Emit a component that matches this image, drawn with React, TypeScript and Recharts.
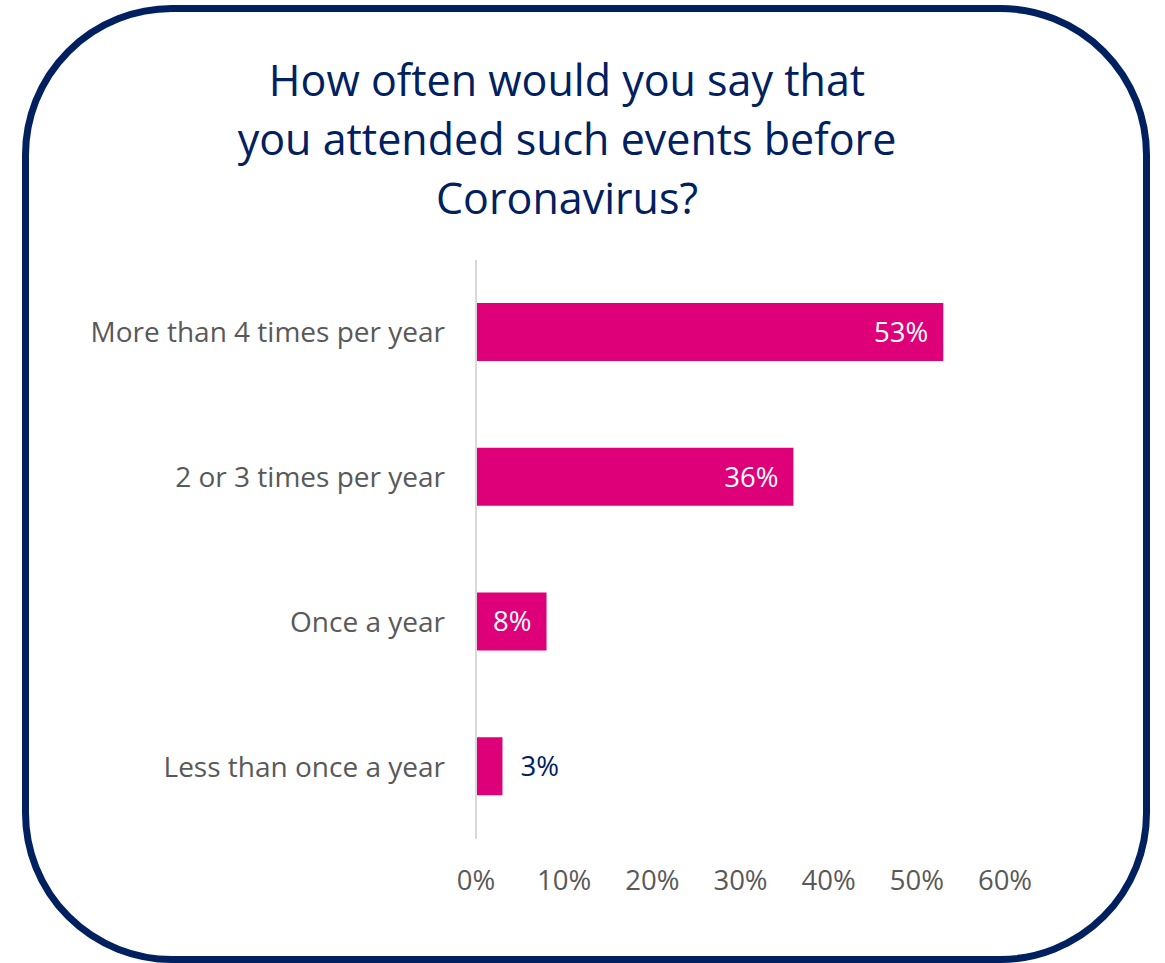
import React from 'react';
import { BarChart, Bar, XAxis, YAxis, LabelList } from 'recharts';

const categories = [
  'More than 4 times per year',
  '2 or 3 times per year',
  'Once a year',
  'Less than once a year',
];
const values = [53, 36, 8, 3];
const xTicks = [0, 10, 20, 30, 40, 50, 60];
const titleLines = [
  'How often would you say that',
  'you attended such events before',
  'Coronavirus?',
];

const data = categories.map((c, i) => ({ name: c, value: values[i] }));

const NAVY = '#002060';
const PINK = '#DE0079';
const GRAY = '#595959';
const FONT = '"Open Sans", sans-serif';

const BarLabel = (props: any) => {
  const { x, y, width, height, value } = props;
  const inside = value >= 5;
  const cy = y + height / 2;
  if (inside) {
    return (
      <text x={x + width - 15} y={cy} dy="0.36em" textAnchor="end" fill="#ffffff" fontSize={27.5} fontFamily={FONT}>
        {`${value}%`}
      </text>
    );
  }
  return (
    <text x={x + width + 18} y={cy} dy="0.36em" textAnchor="start" fill={NAVY} fontSize={27.5} fontFamily={FONT}>
      {`${value}%`}
    </text>
  );
};

export default function App() {
  return (
    <div style={{ position: 'absolute', left: 0, top: 0, width: 1165, height: 963, background: '#fff', overflow: 'hidden' }}>
      <div
        style={{
          position: 'absolute',
          left: 22,
          top: 5,
          width: 1128,
          height: 958,
          border: `7px solid ${NAVY}`,
          borderRadius: 150,
          boxSizing: 'border-box',
        }}
      />
      <div
        style={{
          position: 'absolute',
          left: 0,
          top: 50,
          width: 1134,
          textAlign: 'center',
          color: NAVY,
          fontFamily: FONT,
          fontSize: 43,
          lineHeight: '59px',
        }}
      >
        {titleLines.map((l, i) => (
          <div key={i}>{l}</div>
        ))}
      </div>
      <div style={{ position: 'absolute', left: 0, top: 0 }}>
        <BarChart
          width={1165}
          height={963}
          data={data}
          layout="vertical"
          margin={{ top: 260, right: 160, bottom: 64, left: 0 }}
          barSize={58}
        >
          <XAxis
            type="number"
            domain={[0, 60]}
            ticks={xTicks}
            tickFormatter={(v: number) => `${v}%`}
            axisLine={false}
            tickLine={false}
            tickSize={0}
            tickMargin={31}
            height={60}
            tick={{ fill: GRAY, fontSize: 27.5, fontFamily: FONT }}
            interval={0}
          />
          <YAxis
            type="category"
            dataKey="name"
            width={476}
            axisLine={{ stroke: '#D9D9D9', strokeWidth: 2 }}
            tickLine={false}
            tickSize={0}
            tickMargin={31}
            tick={{ fill: GRAY, fontSize: 28, fontFamily: FONT }}
            interval={0}
          />
          <Bar dataKey="value" fill={PINK} isAnimationActive={false}>
            <LabelList dataKey="value" content={<BarLabel />} />
          </Bar>
        </BarChart>
      </div>
    </div>
  );
}
